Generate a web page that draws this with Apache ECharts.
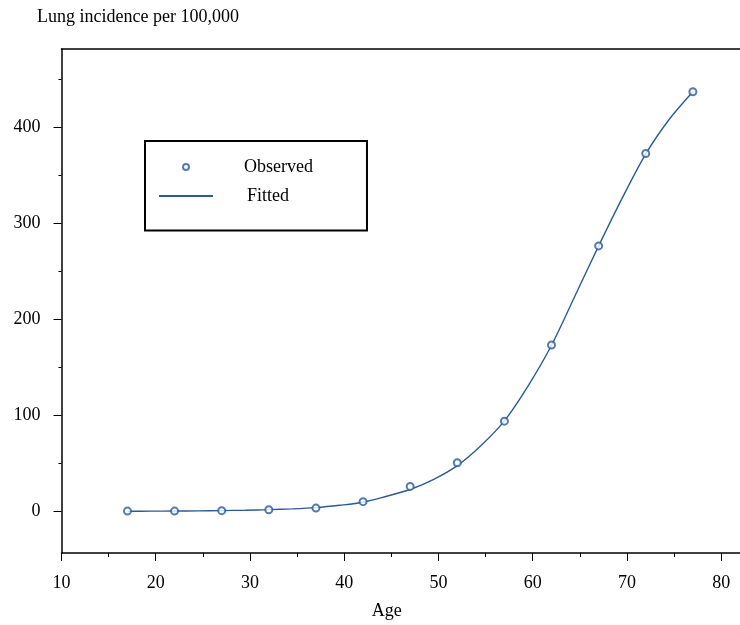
<!DOCTYPE html>
<html>
<head>
<meta charset="utf-8">
<script src="https://cdn.jsdelivr.net/npm/echarts@6.0.0/dist/echarts.min.js"></script>
<style>
  html, body { margin: 0; padding: 0; background: #fff; }
  #chart { width: 740px; height: 625px; }
</style>
</head>
<body>
<div id="chart"></div>
<script>
// observed incidence
const ages = [17, 22, 27, 32, 37, 42, 47, 52, 57, 62, 67, 72, 77];
const observed = [0.6, 0.6, 1.0, 2.0, 3.7, 10.4, 26.2, 50.8, 94.1, 173.2, 276.3, 372.3, 436.6];

// fitted curve, sampled every 2.5 years
const fitAges = [17, 19.5, 22, 24.5, 27, 29.5, 32, 34.5, 37, 39.5, 42, 44.5, 47,
    49.5, 52, 54.5, 57, 59.5, 62, 64.5, 67, 69.5, 72, 74.5, 77];
const fitted = [0.4, 0.5, 0.6, 0.8, 1.1, 1.5, 2.1, 2.9, 4.2, 6.6, 9.8, 16.0, 23.0,
    33.5, 47.8, 68.5, 94.3, 130.5, 173.0, 224.5, 276.3, 326.0, 372.0, 408.0, 436.6];

const xTicks = [10, 20, 30, 40, 50, 60, 70, 80];
const xMinorTicks = [15, 25, 35, 45, 55, 65, 75];
const yTicks = [0, 100, 200, 300, 400];
const yMinorTicks = [50, 150, 250, 350, 450];

const font = 'Liberation Serif';
const blue = '#2b5a98';

let chart = echarts.init(document.getElementById('chart'));

let option = {
    animation: false,
    title: {
        text: 'Lung incidence per 100,000',
        left: 37,
        top: 8,
        padding: 0,
        textStyle: { fontFamily: font, fontSize: 18, fontWeight: 'normal', color: '#000', lineHeight: 18 }
    },
    legend: {
        orient: 'vertical',
        left: 145,
        top: 141,
        padding: [17, 54, 19, 13],
        itemWidth: 54,
        itemHeight: 6,
        itemGap: 4.5,
        selectedMode: false,
        borderColor: '#000',
        borderWidth: 2,
        textStyle: { fontFamily: font, fontSize: 18, color: '#000', lineHeight: 18 },
        lineStyle: { width: 2 },
        data: [
            { name: 'Observed', textStyle: { padding: [0, 0, 0, 26] } },
            // line only, no dot on the legend line
            { name: 'Fitted', itemStyle: { opacity: 0 }, textStyle: { padding: [13, 0, 0, 29] } }
        ]
    },
    grid: { left: 61.5, right: 0, top: 49, bottom: 70 },
    xAxis: [
        {
            type: 'value', min: 10, max: 82,
            name: 'Age', nameLocation: 'middle', nameGap: 49,
            nameTextStyle: { fontFamily: font, fontSize: 18, color: '#000', lineHeight: 18, padding: [0, 28, 0, 0] },
            axisLine: { show: true, onZero: false, lineStyle: { color: '#000', width: 1.5 } },
            axisTick: { show: true, customValues: xTicks, length: 8, lineStyle: { color: '#000' } },
            axisLabel: { customValues: xTicks, margin: 21, fontFamily: font, fontSize: 18, color: '#000' },
            splitLine: { show: false }
        },
        {
            // minor ticks
            type: 'value', min: 10, max: 82, position: 'bottom',
            axisLine: { show: false, onZero: false },
            axisTick: { show: true, customValues: xMinorTicks, length: 4, lineStyle: { color: '#000' } },
            axisLabel: { show: false },
            splitLine: { show: false }
        },
        {
            // top frame line
            type: 'value', min: 10, max: 82, position: 'top',
            axisLine: { show: true, onZero: false, lineStyle: { color: '#000', width: 1.5 } },
            axisTick: { show: false },
            axisLabel: { show: false },
            splitLine: { show: false }
        }
    ],
    yAxis: [
        {
            type: 'value', min: -43, max: 481,
            axisLine: { show: true, onZero: false, lineStyle: { color: '#000', width: 1.5 } },
            axisTick: { show: true, customValues: yTicks, length: 8, lineStyle: { color: '#000' } },
            axisLabel: { customValues: yTicks, margin: 21, fontFamily: font, fontSize: 18, color: '#000' },
            splitLine: { show: false }
        },
        {
            type: 'value', min: -43, max: 481, position: 'left',
            axisLine: { show: false, onZero: false },
            axisTick: { show: true, customValues: yMinorTicks, length: 3, lineStyle: { color: '#000' } },
            axisLabel: { show: false },
            splitLine: { show: false }
        }
    ],
    series: [
        {
            name: 'Observed',
            type: 'scatter',
            z: 5,
            symbol: 'emptyCircle',
            symbolSize: 7,
            itemStyle: { color: blue, borderColor: blue, borderWidth: 1.2 },
            data: ages.map((a, i) => [a, observed[i]])
        },
        {
            name: 'Fitted',
            type: 'line',
            z: 3,
            symbol: 'none',
            smooth: 0.3,
            lineStyle: { color: blue, width: 1.4 },
            itemStyle: { color: blue },
            data: fitAges.map((a, i) => [a, fitted[i]])
        }
    ]
};

chart.setOption(option);
</script>
</body>
</html>
